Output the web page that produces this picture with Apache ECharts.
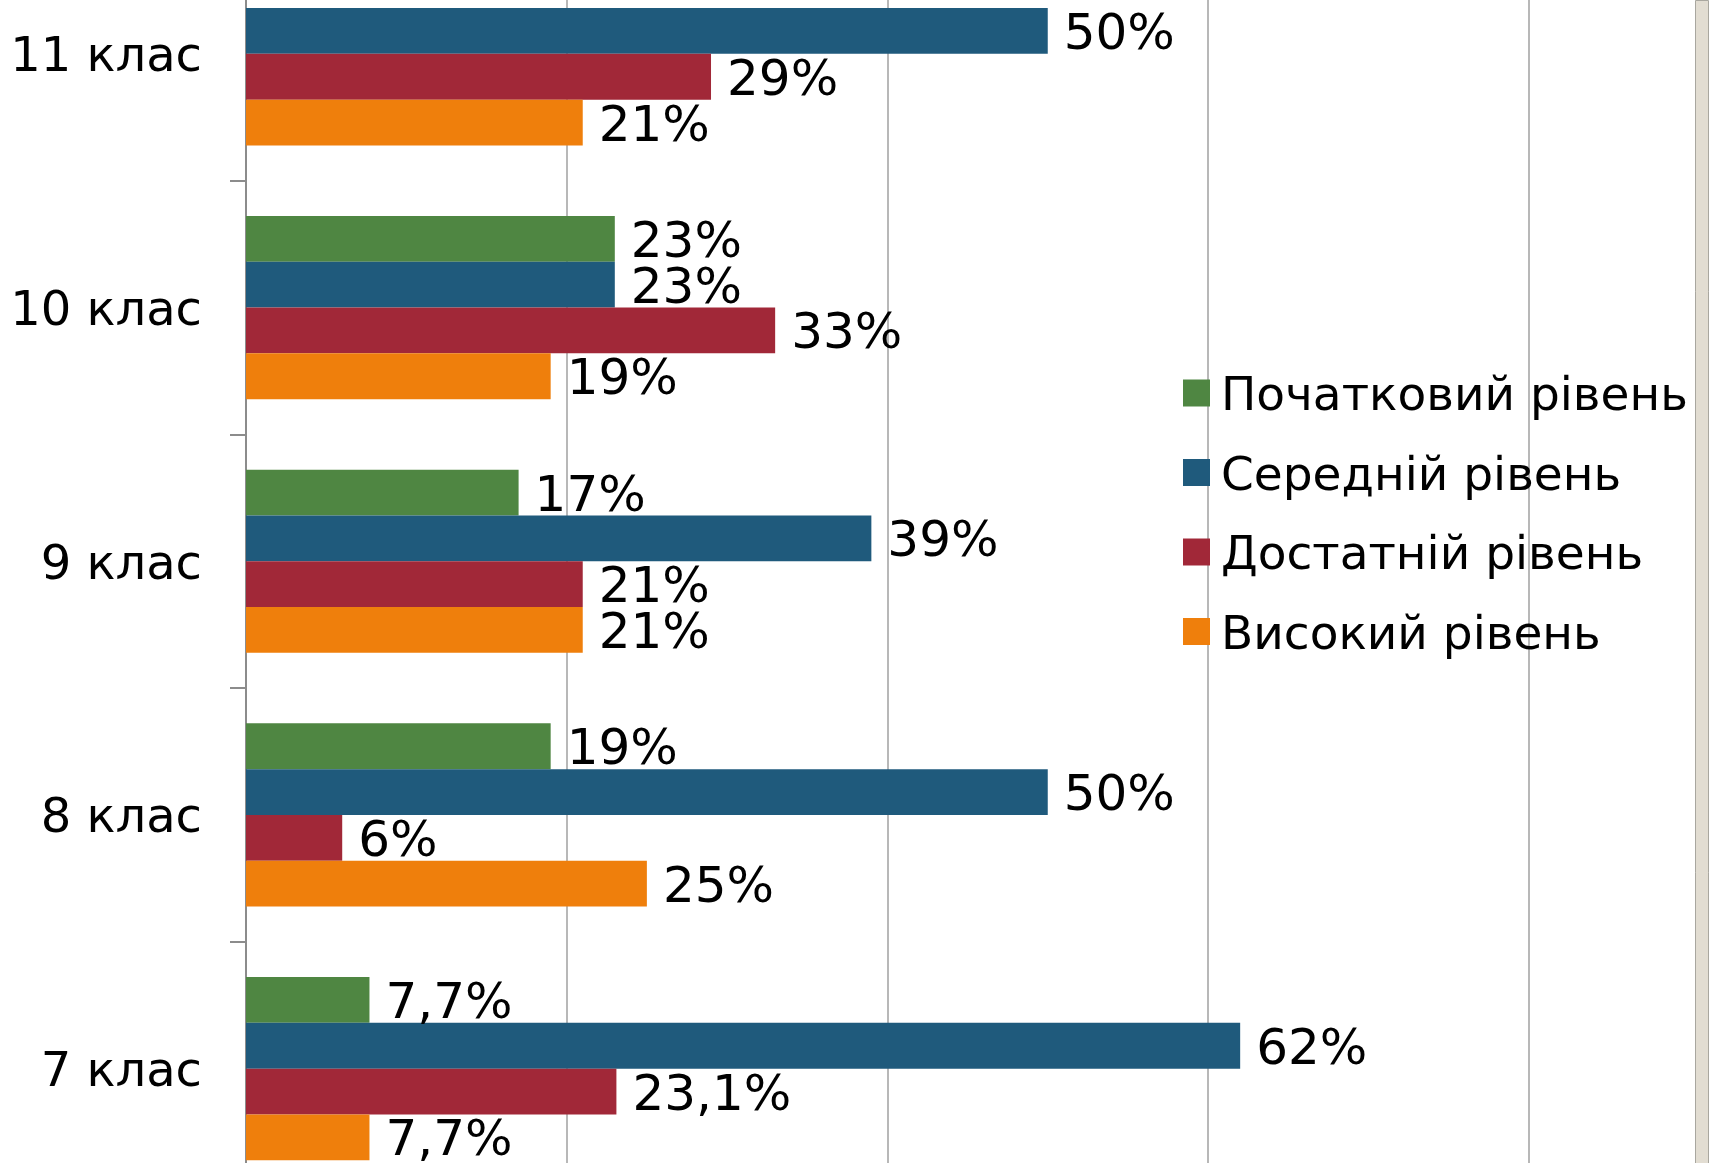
<!DOCTYPE html>
<html>
<head>
<meta charset="utf-8">
<script src="https://cdn.jsdelivr.net/npm/echarts@6/dist/echarts.min.js"></script>
<style>
  html, body { margin: 0; padding: 0; background: #fff; }
  #chart { width: 1709px; height: 1163px; }
</style>
</head>
<body>
<div id="chart"></div>
<script>
// класи (знизу вгору)
const classes = ['7 клас', '8 клас', '9 клас', '10 клас', '11 клас'];
// рівні навчальних досягнень, %
const levelNames = ['Початковий рівень', 'Середній рівень', 'Достатній рівень', 'Високий рівень'];
const pochatkovyi = [7.7, 19, 17, 23, 0];
const serednii = [62, 50, 39, 23, 50];
const dostatnii = [23.1, 6, 21, 33, 29];
const vysokyi = [7.7, 25, 21, 19, 21];
const levelColors = ['#4f8642', '#1f5a7c', '#a12838', '#ef7f0c'];

const FONT = 'DejaVu Sans';

// підпис у форматі 7,7%
function labelText(p) {
  if (!p.value) return '';
  return String(p.value).replace('.', ',') + '%';
}

function makeSeries(name, data, color) {
  return {
    name: name,
    type: 'bar',
    data: data,
    barGap: '0%',
    barCategoryGap: '27.8%',
    itemStyle: { color: color },
    label: {
      show: true,
      position: 'right',
      distance: 16,
      offset: [0, 5],
      formatter: labelText,
      color: '#000',
      fontFamily: FONT,
      fontSize: 50
    }
  };
}

const chart = echarts.init(document.getElementById('chart'));
chart.setOption({
  animation: false,
  backgroundColor: '#fff',
  grid: {
    left: 246,
    right: -140.5,
    top: -73,
    bottom: -32.5,
    containLabel: false,
    outerBoundsMode: 'none'
  },
  legend: {
    orient: 'vertical',
    left: 1178,
    top: 359.5,
    icon: 'rect',
    itemWidth: 27,
    itemHeight: 27,
    itemGap: 22.5,
    data: levelNames,
    formatter: (name) => '{t|' + name + '}',
    textStyle: {
      rich: {
        t: {
          fontFamily: FONT,
          fontSize: 47,
          lineHeight: 46,
          color: '#000',
          padding: [10, 0, 0, 6]
        }
      }
    }
  },
  xAxis: {
    type: 'value',
    min: 0,
    max: 100,
    interval: 20,
    axisLine: { show: false },
    axisTick: { show: false },
    axisLabel: { show: false },
    splitLine: { show: true, lineStyle: { color: '#a0a0a0', width: 1.5 } }
  },
  yAxis: {
    type: 'category',
    data: classes,
    axisLine: { show: true, lineStyle: { color: '#8c8c8c', width: 2 } },
    axisTick: { show: true, length: 16, lineStyle: { color: '#8c8c8c', width: 2 } },
    axisLabel: {
      margin: 44,
      formatter: (v) => '{c|' + v + '}',
      rich: {
        c: {
          color: '#000',
          fontFamily: FONT,
          fontSize: 48,
          padding: [10, 0, 0, 0]
        }
      }
    }
  },
  series: [
    makeSeries(levelNames[0], pochatkovyi, levelColors[0]),
    makeSeries(levelNames[1], serednii, levelColors[1]),
    makeSeries(levelNames[2], dostatnii, levelColors[2]),
    makeSeries(levelNames[3], vysokyi, levelColors[3])
  ],
  graphic: [
    {
      type: 'rect',
      right: 0,
      top: 0,
      shape: { width: 13, height: 1163 },
      style: { fill: '#e2ddd2', stroke: '#a9a79f', lineWidth: 1 }
    }
  ]
});
</script>
</body>
</html>
